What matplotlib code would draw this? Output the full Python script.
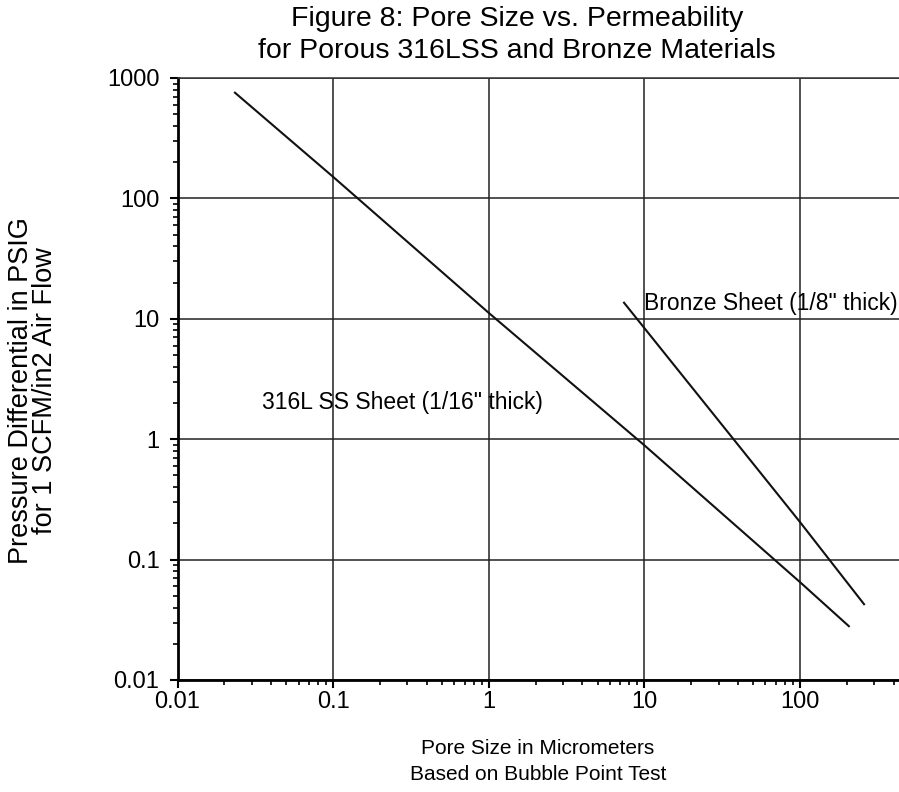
import matplotlib
matplotlib.use("Agg")
import matplotlib.pyplot as plt
from matplotlib.ticker import LogLocator, FixedLocator, NullFormatter

plt.rcParams["font.family"] = ["Liberation Sans", "DejaVu Sans"]

# Data
ss_pore = [0.0234, 0.1, 1, 10, 100, 206]
ss_dp = [755, 151, 11.2, 0.89, 0.065, 0.028]
bronze_pore = [7.4, 100, 258]
bronze_dp = [13.6, 0.205, 0.0426]

x_ticks = [0.01, 0.1, 1, 10, 100]
x_tick_labels = ["0.01", "0.1", "1", "10", "100"]
y_ticks = [0.01, 0.1, 1, 10, 100, 1000]
y_tick_labels = ["0.01", "0.1", "1", "10", "100", "1000"]

title_lines = ["Figure 8: Pore Size vs. Permeability", "for Porous 316LSS and Bronze Materials"]
xlabel_lines = ["Pore Size in Micrometers", "Based on Bubble Point Test"]
ylabel_lines = ["Pressure Differential in PSIG", "for 1 SCFM/in2 Air Flow"]
ss_label = "316L SS Sheet (1/16\" thick)"
bronze_label = "Bronze Sheet (1/8\" thick)"

W, H = 899, 792
fig = plt.figure(figsize=(W / 100, H / 100), dpi=100)
left_px, right_px, top_px, bot_px = 177.5, 899, 78, 680
ax = fig.add_axes([left_px / W, 1 - bot_px / H, (right_px - left_px) / W, (bot_px - top_px) / H])

ax.set_xscale("log")
ax.set_yscale("log")
dec = (800 - 177.5) / 4
ax.set_xlim(0.01, 10 ** (-2 + (right_px - left_px) / dec))
ax.set_ylim(0.01, 1000)

ax.plot(ss_pore, ss_dp, color="#111111", lw=1.5)
ax.plot(bronze_pore, bronze_dp, color="#111111", lw=1.5)

ax.xaxis.set_major_locator(FixedLocator(x_ticks))
ax.set_xticklabels(x_tick_labels)
ax.yaxis.set_major_locator(FixedLocator(y_ticks))
ax.set_yticklabels(y_tick_labels)
ax.xaxis.set_minor_locator(LogLocator(base=10, subs=range(2, 10), numticks=20))
ax.yaxis.set_minor_locator(LogLocator(base=10, subs=range(2, 10), numticks=20))
ax.xaxis.set_minor_formatter(NullFormatter())
ax.yaxis.set_minor_formatter(NullFormatter())

ax.grid(True, which="major", color="#222222", lw=1.1)
ax.tick_params(which="major", direction="out", length=6, width=1.5, labelsize=17, pad=2, colors="black")
ax.tick_params(which="minor", direction="out", length=3.5, width=1.2)
ax.tick_params(axis="y", which="major", pad=7)

for s in ["left", "bottom"]:
    ax.spines[s].set_linewidth(2)
ax.spines["top"].set_linewidth(1.1)
ax.spines["top"].set_color("#333333")
ax.spines["right"].set_visible(False)

ax.text(10, 13.5, bronze_label, fontsize=16.5, ha="left", va="center")
ax.text(0.0348, 2.0, ss_label, fontsize=16.5, ha="left", va="center")

fig.text(517 / W, 1 - 35 / H, "\n".join(title_lines), fontsize=20.5, ha="center", va="center",
         linespacing=1.3)
fig.text(538 / W, 1 - 761.5 / H, "\n".join(xlabel_lines), fontsize=15, ha="center", va="center",
         linespacing=1.4)
fig.text(33 / W, 1 - 391 / H, "\n".join(ylabel_lines), fontsize=19.5, ha="center", va="center",
         rotation=90, linespacing=0.88)

fig.savefig("out.png", dpi=100)
